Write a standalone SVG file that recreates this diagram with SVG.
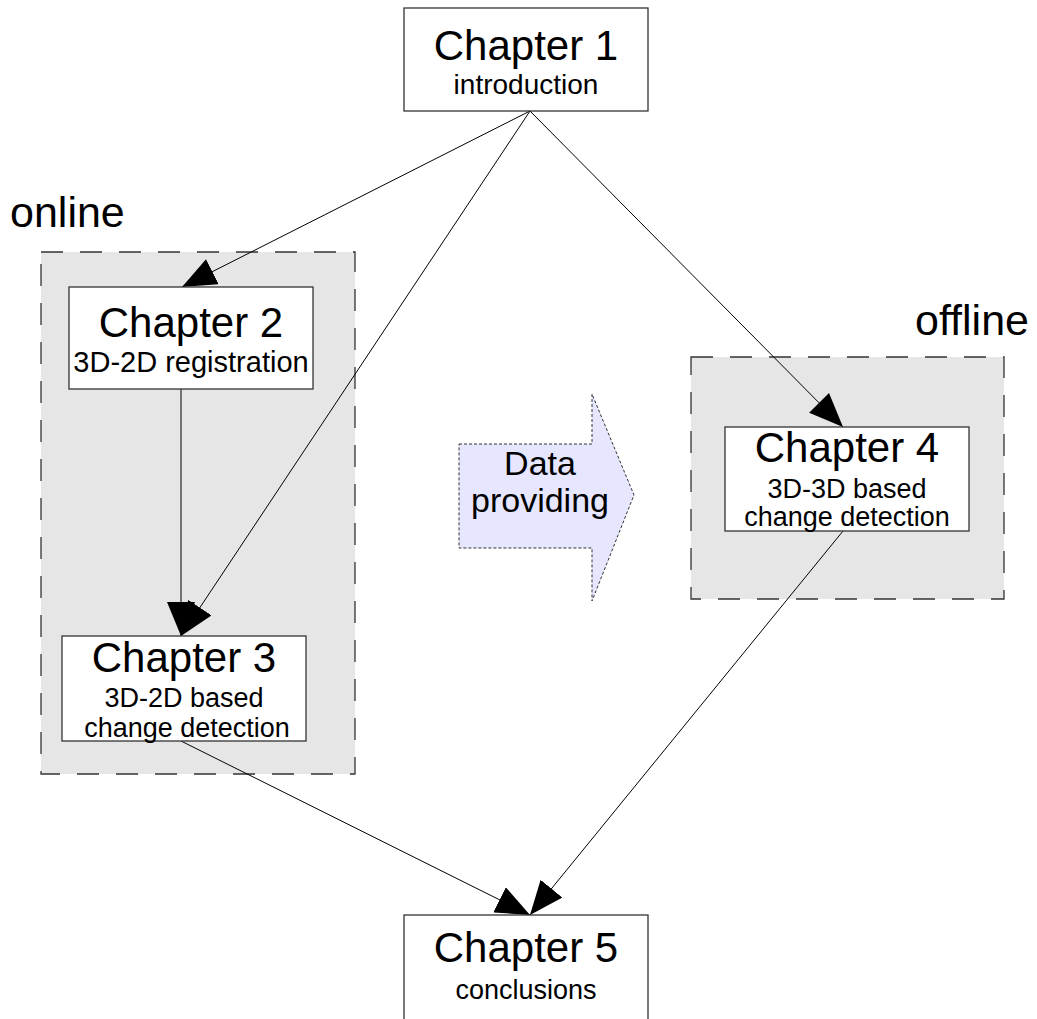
<svg xmlns="http://www.w3.org/2000/svg" width="1037" height="1019" viewBox="0 0 1037 1019">
  <style>
    text { font-family: "Liberation Sans", Arial, sans-serif; fill: #000; text-anchor: middle; }
    .title { font-size: 42px; }
    .sub { font-size: 28px; }
    .small { font-size: 27px; }
    .label { font-size: 43px; text-anchor: start; }
    .flow { font-size: 34px; }
    .box { fill: #fff; stroke: #333; stroke-width: 1.3; }
    .group { fill: #e6e6e6; stroke: #333; stroke-width: 1.3; stroke-dasharray: 22 17; }
    .edge { fill: none; stroke: #000; stroke-width: 1; marker-end: url(#head); }
  </style>
  <defs>
    <marker id="head" viewBox="0 0 34 28" refX="34" refY="14" markerWidth="34" markerHeight="28" markerUnits="userSpaceOnUse" orient="auto">
      <path d="M0,0 L34,14 L0,28 z" fill="#000"/>
    </marker>
  </defs>

  <rect width="1037" height="1019" fill="#fff"/>

  <!-- grouping panels -->
  <g id="online">
    <rect class="group" x="41" y="252" width="314" height="522"/>
    <text class="label" x="10" y="227">online</text>
  </g>
  <g id="offline">
    <rect class="group" x="691" y="357" width="313" height="242"/>
    <text class="label" x="915" y="335">offline</text>
  </g>

  <!-- data flow arrow -->
  <g id="data-providing">
    <path d="M459,444 L592,444 L592,394 L634,495 L592,601 L592,548 L459,548 Z" fill="#e6e6ff" stroke="#333" stroke-width="1" stroke-dasharray="3 2"/>
    <text class="flow" x="540" y="475">Data</text>
    <text class="flow" x="540" y="512">providing</text>
  </g>

  <!-- connectors -->
  <g id="connectors">
    <line class="edge" x1="530" y1="111" x2="182" y2="287"/>
    <line class="edge" x1="530" y1="111" x2="181" y2="636"/>
    <line class="edge" x1="181" y1="389" x2="181" y2="636"/>
    <line class="edge" x1="530" y1="111" x2="843" y2="427"/>
    <line class="edge" x1="181" y1="741" x2="530" y2="915"/>
    <line class="edge" x1="843" y1="531" x2="530" y2="915"/>
  </g>

  <!-- chapters -->
  <g id="chapter1">
    <rect class="box" x="404" y="8" width="244" height="103"/>
    <text class="title" x="526" y="60">Chapter 1</text>
    <text class="sub" x="526" y="94">introduction</text>
  </g>
  <g id="chapter2">
    <rect class="box" x="69" y="287" width="244" height="102"/>
    <text class="title" x="191" y="337">Chapter 2</text>
    <text x="191" y="372" font-size="29">3D-2D registration</text>
  </g>
  <g id="chapter3">
    <rect class="box" x="62" y="636" width="244" height="105"/>
    <text class="title" x="184" y="672">Chapter 3</text>
    <text class="small" x="184" y="707">3D-2D based</text>
    <text class="small" x="187" y="737">change detection</text>
  </g>
  <g id="chapter4">
    <rect class="box" x="725" y="427" width="244" height="104"/>
    <text class="title" x="847" y="462">Chapter 4</text>
    <text class="small" x="847" y="498">3D-3D based</text>
    <text class="small" x="847" y="526">change detection</text>
  </g>
  <g id="chapter5">
    <rect class="box" x="404" y="915" width="244" height="120"/>
    <text class="title" x="526" y="962">Chapter 5</text>
    <text class="small" x="526" y="999">conclusions</text>
  </g>
</svg>
